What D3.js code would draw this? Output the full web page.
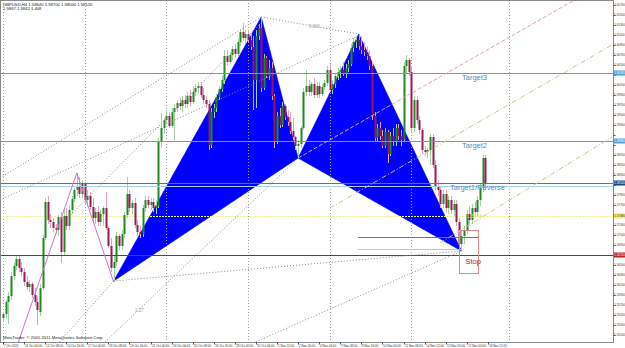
<!DOCTYPE html>
<html><head><meta charset="utf-8">
<script src="https://cdn.jsdelivr.net/npm/d3@7"></script>
<style>body{margin:0;background:#fff;} svg{display:block;font-family:"Liberation Sans",Arial,sans-serif;}</style>
</head><body><svg id="c" width="625" height="348"></svg>
<script>
const symbolTitle = "GBPUSD,H4";
const openP = [1.5544,1.5552,1.5576,1.5588,1.5628,1.5648,1.5662,1.5644,1.5636,1.5616,
1.5606,1.5612,1.5590,1.5576,1.5556,1.5604,1.5704,1.5776,1.5740,1.5736,
1.5724,1.5720,1.5746,1.5676,1.5748,1.5728,1.5760,1.5782,1.5800,1.5808,
1.5792,1.5812,1.5780,1.5788,1.5766,1.5744,1.5756,1.5736,1.5752,1.5764,
1.5724,1.5688,1.5644,1.5656,1.5708,1.5688,1.5712,1.5750,1.5792,1.5764,
1.5774,1.5730,1.5716,1.5712,1.5764,1.5780,1.5770,1.5776,1.5764,1.5768,
1.5896,1.5924,1.5940,1.5948,1.5928,1.5956,1.5964,1.5974,1.5968,1.5980,
1.5972,1.5988,1.5976,1.5996,1.6004,1.6008,1.5990,1.5980,1.5972,1.5890,
1.5956,1.5964,1.5986,1.6002,1.6020,1.6068,1.6056,1.6070,1.6082,1.6072,
1.6096,1.6116,1.6104,1.6112,1.6100,1.6086,1.6020,1.6108,1.6124,1.6004,
1.6064,1.6028,1.6044,1.5988,1.5896,1.5948,1.5930,1.5968,1.5946,1.5936,
1.5918,1.5906,1.5888,1.5892,1.5924,1.5996,1.6008,1.5996,1.6012,1.5990,
1.6008,1.5992,1.6006,1.6014,1.6040,1.6000,1.6012,1.6028,1.6036,1.6040,
1.6032,1.6044,1.6052,1.6084,1.6096,1.6100,1.6088,1.6080,1.6076,1.6068,
1.6048,1.5948,1.5904,1.5924,1.5908,1.5888,1.5916,1.5872,1.5908,1.5896,
1.5924,1.5908,1.5900,1.6048,1.6060,1.6036,1.5924,1.5980,1.5940,1.5920,
1.5880,1.5876,1.5880,1.5906,1.5850,1.5808,1.5800,1.5772,1.5792,1.5764,
1.5780,1.5760,1.5772,1.5736,1.5692,1.5708,1.5720,1.5752,1.5740,1.5764,
1.5756,1.5780,1.5804,1.5864];
const highP = [1.5556,1.5580,1.5596,1.5636,1.5656,1.5670,1.5668,1.5656,1.5644,1.5628,
1.5620,1.5616,1.5604,1.5588,1.5612,1.5710,1.5784,1.5788,1.5752,1.5744,
1.5732,1.5750,1.5756,1.5760,1.5764,1.5770,1.5788,1.5804,1.5834,1.5826,
1.5820,1.5816,1.5800,1.5796,1.5784,1.5764,1.5768,1.5760,1.5768,1.5796,
1.5728,1.5704,1.5668,1.5716,1.5712,1.5720,1.5756,1.5826,1.5800,1.5780,
1.5784,1.5740,1.5728,1.5770,1.5788,1.5788,1.5784,1.5784,1.5780,1.5904,
1.5954,1.5944,1.5960,1.5956,1.5964,1.5972,1.5980,1.5984,1.5988,1.5990,
1.5996,1.6000,1.6008,1.6012,1.6016,1.6016,1.6004,1.5988,1.5980,1.5964,
1.5972,1.5992,1.6008,1.6028,1.6080,1.6080,1.6076,1.6088,1.6092,1.6104,
1.6120,1.6134,1.6120,1.6120,1.6112,1.6108,1.6120,1.6132,1.6146,1.6072,
1.6068,1.6060,1.6056,1.5992,1.5956,1.5964,1.5976,1.5972,1.5960,1.5956,
1.5944,1.5908,1.5900,1.5928,1.6004,1.6040,1.6020,1.6016,1.6024,1.6016,
1.6016,1.6012,1.6020,1.6048,1.6052,1.6020,1.6032,1.6044,1.6048,1.6056,
1.6052,1.6060,1.6092,1.6104,1.6108,1.6112,1.6108,1.6096,1.6088,1.6080,
1.6056,1.5956,1.5932,1.5936,1.5920,1.5924,1.5920,1.5916,1.5924,1.5932,
1.5932,1.5920,1.6056,1.6070,1.6064,1.6048,1.5988,1.5988,1.5948,1.5924,
1.5888,1.5884,1.5912,1.5912,1.5860,1.5820,1.5808,1.5800,1.5800,1.5788,
1.5788,1.5780,1.5780,1.5744,1.5720,1.5728,1.5760,1.5768,1.5772,1.5776,
1.5788,1.5812,1.5870,1.5870];
const lowP = [1.5536,1.5544,1.5532,1.5580,1.5620,1.5640,1.5636,1.5628,1.5608,1.5600,
1.5596,1.5584,1.5568,1.5530,1.5548,1.5600,1.5700,1.5732,1.5724,1.5716,
1.5712,1.5708,1.5654,1.5668,1.5720,1.5720,1.5752,1.5776,1.5788,1.5784,
1.5784,1.5772,1.5768,1.5760,1.5736,1.5732,1.5728,1.5728,1.5728,1.5720,
1.5684,1.5636,1.5616,1.5648,1.5680,1.5680,1.5704,1.5744,1.5756,1.5752,
1.5724,1.5708,1.5704,1.5706,1.5756,1.5764,1.5760,1.5756,1.5752,1.5764,
1.5884,1.5912,1.5932,1.5924,1.5924,1.5900,1.5956,1.5960,1.5956,1.5964,
1.5964,1.5968,1.5972,1.5988,1.5992,1.5984,1.5972,1.5964,1.5880,1.5884,
1.5944,1.5956,1.5980,1.5996,1.6012,1.6048,1.6052,1.6060,1.6064,1.6068,
1.6088,1.6100,1.6092,1.6096,1.6080,1.5960,1.5964,1.6100,1.5996,1.6000,
1.6024,1.6020,1.5980,1.5884,1.5892,1.5924,1.5926,1.5940,1.5928,1.5912,
1.5900,1.5880,1.5864,1.5884,1.5920,1.5988,1.5988,1.5988,1.5984,1.5984,
1.5984,1.5988,1.6000,1.6008,1.5996,1.5992,1.6004,1.6020,1.6024,1.6028,
1.6024,1.6036,1.6048,1.6076,1.6084,1.6080,1.6072,1.6068,1.6060,1.6040,
1.5940,1.5896,1.5896,1.5900,1.5884,1.5884,1.5854,1.5868,1.5888,1.5888,
1.5900,1.5888,1.5896,1.6032,1.6028,1.5916,1.5916,1.5932,1.5912,1.5872,
1.5868,1.5864,1.5850,1.5844,1.5800,1.5788,1.5764,1.5764,1.5756,1.5752,
1.5752,1.5748,1.5728,1.5684,1.5676,1.5692,1.5712,1.5732,1.5732,1.5748,
1.5748,1.5768,1.5796,1.5800];
const closeP = [1.5552,1.5576,1.5588,1.5628,1.5648,1.5662,1.5644,1.5636,1.5616,1.5606,
1.5612,1.5590,1.5576,1.5560,1.5604,1.5704,1.5776,1.5740,1.5736,1.5724,
1.5720,1.5746,1.5676,1.5748,1.5728,1.5760,1.5782,1.5800,1.5808,1.5792,
1.5812,1.5780,1.5788,1.5766,1.5744,1.5756,1.5736,1.5752,1.5764,1.5724,
1.5688,1.5644,1.5656,1.5708,1.5688,1.5712,1.5750,1.5792,1.5764,1.5774,
1.5730,1.5716,1.5712,1.5764,1.5780,1.5770,1.5776,1.5764,1.5768,1.5896,
1.5924,1.5940,1.5948,1.5928,1.5956,1.5964,1.5974,1.5968,1.5980,1.5972,
1.5988,1.5976,1.5996,1.6004,1.6008,1.5990,1.5980,1.5972,1.5890,1.5956,
1.5964,1.5986,1.6002,1.6020,1.6068,1.6056,1.6070,1.6082,1.6072,1.6096,
1.6116,1.6104,1.6112,1.6100,1.6086,1.6020,1.6108,1.6124,1.6004,1.6064,
1.6028,1.6044,1.5988,1.5896,1.5948,1.5930,1.5968,1.5946,1.5936,1.5918,
1.5906,1.5888,1.5892,1.5924,1.5996,1.6008,1.5996,1.6012,1.5990,1.6008,
1.5992,1.6006,1.6014,1.6040,1.6000,1.6012,1.6028,1.6036,1.6040,1.6032,
1.6044,1.6052,1.6084,1.6096,1.6100,1.6088,1.6080,1.6076,1.6068,1.6048,
1.5948,1.5904,1.5924,1.5908,1.5888,1.5916,1.5872,1.5908,1.5896,1.5924,
1.5908,1.5900,1.6048,1.6060,1.6036,1.5924,1.5980,1.5940,1.5920,1.5880,
1.5876,1.5880,1.5906,1.5850,1.5808,1.5800,1.5772,1.5792,1.5764,1.5780,
1.5760,1.5772,1.5736,1.5692,1.5708,1.5720,1.5752,1.5740,1.5764,1.5756,
1.5780,1.5804,1.5864,1.5812];

const priceTicks = [1.6170,1.6150,1.6130,1.6110,1.6090,1.6070,1.6050,1.6030,1.6010,1.5990,
1.5970,1.5950,1.5930,1.5910,1.5890,1.5870,1.5850,1.5830,1.5810,1.5790,1.5770,1.5750,
1.5730,1.5710,1.5690,1.5670,1.5650,1.5630,1.5610,1.5590,1.5570,1.5550,1.5530,1.5510];
const dateLabels = ["7 Oct 2011","11 Oct 00:00","12 Oct 08:00","13 Oct 16:00","17 Oct 00:00","18 Oct 08:00",
"19 Oct 16:00","21 Oct 00:00","24 Oct 04:00","25 Oct 08:00","26 Oct 16:00","28 Oct 00:00","31 Oct 04:00",
"1 Nov 12:00","2 Nov 20:00","4 Nov 04:00","7 Nov 08:00","8 Nov 16:00","10 Nov 00:00","11 Nov 08:00",
"14 Nov 12:00","15 Nov 20:00","17 Nov 04:00","18 Nov 12:00"];
const dateLabelStep = 8;
const separatorBars = [0,31,62,93,124,155,192];

// harmonic pattern X A B C D
const patternBars = [42,98,112,135,174];
const patternPrices = [1.5618,1.6146,1.5864,1.6112,1.5678];

// horizontal levels
const levelNames = ["Target3","Target2","Target1/Reverse","Stop"];
const levelPrices = [1.6034,1.5898,1.5814,1.5670];
const target1Second = 1.5808;
const yellowLevel = 1.5748;
const shortLevelPrices = [1.5706,1.5682];
const shortLevelBars = [[134.7,180.3],[134.7,174.2]];
const stopBoxBars = [173.1,180.3];
const stopBoxPrices = [1.5720,1.5634];

// earlier swing (pink)
const swingBars = [4,28,42];
const swingPrices = [1.5468,1.5834,1.5616];

// trend lines: [bar1, price1, bar2, price2]
const grayLines = [
 [-1.14,1.5824,98,1.6146],
 [-1.14,1.5780,135.5,1.6110],
 [20,1.5720,98,1.6134],
 [42,1.5618,174,1.5678],
 [98,1.6146,135,1.6112],
 [21.3,1.5496,42,1.5618],
 [38.7,1.5496,112,1.5864],
 [94.9,1.5494,174,1.5678]
];
const pinkLines = [[112,1.5864,231.5,1.6224]];
const tanLines = [[165.8,1.5694,231.1,1.5906],[124.1,1.5764,231.1,1.6090]];

const svg = d3.select('#c');
const PR = 613, PB = 342;
const x = d3.scaleLinear().domain([0,232]).range([3,3+2.635*232]);
const y = d3.scaleLinear().domain([1.5496,1.6180]).range([PB,0]);

svg.append('rect').attr('width',625).attr('height',348).attr('fill','#fff');
svg.append('clipPath').attr('id','clip').append('rect').attr('x',0).attr('y',0).attr('width',PR).attr('height',PB);
const g = svg.append('g').attr('clip-path','url(#clip)');

// triangles
const pts = patternBars.map((b,i)=>[x(b),y(patternPrices[i])]);
g.selectAll('path.tri').data([[pts[0],pts[1],pts[2]],[pts[2],pts[3],pts[4]]]).enter()
 .append('path').attr('d',d=>'M'+d.join('L')+'Z').attr('fill','#0000ff').attr('stroke','#0000ff').attr('stroke-width',0.6);

// separators
g.selectAll('line.sep').data(separatorBars).enter().append('line')
 .attr('x1',d=>Math.round(x(d))+0.5).attr('x2',d=>Math.round(x(d))+0.5).attr('y1',0).attr('y2',PB)
 .attr('stroke','#a0a0a0').attr('stroke-width',1).attr('stroke-dasharray','1,2');

// yellow level
g.append('line').attr('x1',0).attr('x2',PR).attr('y1',Math.round(y(yellowLevel))+0.5).attr('y2',Math.round(y(yellowLevel))+0.5)
 .attr('stroke','#f0f08c').attr('stroke-width',1).attr('stroke-dasharray','2,1');

// candles
const idx = d3.range(closeP.length);
g.selectAll('line.wick').data(idx).enter().append('line')
 .attr('x1',i=>Math.round(x(i))+0.5).attr('x2',i=>Math.round(x(i))+0.5)
 .attr('y1',i=>y(highP[i])).attr('y2',i=>y(lowP[i]))
 .attr('stroke',i=>closeP[i]>=openP[i]?'#a0d4a0':'#e6a4ba').attr('stroke-width',1);
g.selectAll('rect.body').data(idx).enter().append('rect')
 .attr('x',i=>Math.round(x(i))-0.5).attr('width',2)
 .attr('y',i=>y(Math.max(openP[i],closeP[i])))
 .attr('height',i=>Math.max(1,Math.abs(y(openP[i])-y(closeP[i]))))
 .attr('fill',i=>closeP[i]>=openP[i]?'#1f8a1f':'#9c1850');

// horizontal levels
const levelColors = ['#5aa0d2','#5aa0d2','#3c7cc0','#b41e1e'];
levelPrices.forEach((p,k)=>{
 g.append('line').attr('x1',0).attr('x2',PR).attr('y1',Math.round(y(p))+0.5).attr('y2',Math.round(y(p))+0.5)
  .attr('stroke',levelColors[k]).attr('stroke-width',1);
});
g.append('line').attr('x1',0).attr('x2',PR).attr('y1',Math.round(y(target1Second))+0.5).attr('y2',Math.round(y(target1Second))+0.5)
 .attr('stroke','#a8d0ea').attr('stroke-width',1);

// short levels & stop box
const shortColors = ['#7a6a96','#8fd8e8'];
shortLevelPrices.forEach((p,k)=>{
 g.append('line').attr('x1',x(shortLevelBars[k][0])).attr('x2',x(shortLevelBars[k][1]))
  .attr('y1',Math.round(y(p))+0.5).attr('y2',Math.round(y(p))+0.5).attr('stroke',shortColors[k]).attr('stroke-width',1);
});
g.append('rect').attr('x',Math.round(x(stopBoxBars[0]))+0.5).attr('y',Math.round(y(stopBoxPrices[0]))+0.5)
 .attr('width',Math.round(x(stopBoxBars[1])-x(stopBoxBars[0]))).attr('height',Math.round(y(stopBoxPrices[1])-y(stopBoxPrices[0])))
 .attr('fill','none').attr('stroke','#e08a8a').attr('stroke-width',1);

// trend lines
const drawLines=(arr,color,dash,w)=>g.selectAll(null).data(arr).enter().append('line')
 .attr('x1',d=>x(d[0])).attr('y1',d=>y(d[1])).attr('x2',d=>x(d[2])).attr('y2',d=>y(d[3]))
 .attr('stroke',color).attr('stroke-width',w).attr('stroke-dasharray',dash);
drawLines(grayLines,'#8c8c8c','1,2',1);
drawLines(pinkLines,'#e0a0c4','4,2',1);
drawLines(tanLines,'#d2c08c','5,2,1,2',1);

g.append('path').attr('d',d3.line()(swingBars.map((b,i)=>[x(b),y(swingPrices[i])])))
 .attr('fill','none').attr('stroke','#d070d0').attr('stroke-width',1);

// labels on chart
levelNames.slice(0,3).forEach((n,k)=>{
 svg.append('text').attr('x',k==2?450:462).attr('y',y(levelPrices[k])+7).text(n)
  .attr('font-size',7.5).attr('fill','#4a90c8');
});
svg.append('text').attr('x',x(175.5)).attr('y',y(levelPrices[3])+9).text(levelNames[3])
 .attr('font-size',7.5).attr('fill','#c02020');
svg.append('text').attr('x',x(176)).attr('y',y(yellowLevel)+2).text(yellowLevel.toFixed(4))
 .attr('font-size',5).attr('fill','#e0e060');
svg.append('text').attr('x',x(116)).attr('y',y(1.6124)).text('0.886').attr('font-size',4.5).attr('fill','#8ab0c8');
svg.append('text').attr('x',135).attr('y',312).text('1.27').attr('font-size',4.5).attr('fill','#9a9a9a');

// frame
svg.append('rect').attr('x',0.5).attr('y',0.5).attr('width',PR).attr('height',PB).attr('fill','none').attr('stroke','#8a8a8a').attr('stroke-width',1);

// price axis
const boxLevels = [[levelPrices[0],'#5aa0d2'],[levelPrices[1],'#5aa0d2'],[levelPrices[2],'#1a4a8a'],[levelPrices[3],'#c02020'],[yellowLevel,'#f0f070']];
const freeTicks = priceTicks.filter(p=>boxLevels.every(([b])=>Math.abs(y(b)-y(p))>6));
svg.selectAll('line.pt').data(priceTicks).enter().append('line')
 .attr('x1',PR+0.5).attr('x2',PR+2.5).attr('y1',p=>Math.round(y(p))+0.5).attr('y2',p=>Math.round(y(p))+0.5).attr('stroke','#555');
svg.selectAll('text.pt').data(freeTicks).enter().append('text')
 .attr('x',PR+1.3).attr('y',p=>y(p)+1.1).text(p=>p.toFixed(5))
 .attr('font-size',2.9).attr('fill','#333');
boxLevels.forEach(([p,c])=>{
 const yy=y(p);
 svg.append('rect').attr('x',PR+1).attr('y',yy-2.5).attr('width',11).attr('height',5).attr('fill',c);
 svg.append('text').attr('x',PR+1.3).attr('y',yy+1.1).text(p.toFixed(5)).attr('font-size',2.9).attr('fill',c=='#f0f070'?'#333':'#fff');
});

// time axis
svg.selectAll('g.tl').data(dateLabels).enter().append('g').each(function(t,k){
 const xx=Math.round(x(k*dateLabelStep))+0.5;
 d3.select(this).append('line').attr('x1',xx).attr('x2',xx).attr('y1',PB).attr('y2',PB+2.5).attr('stroke','#555');
 d3.select(this).append('text').attr('x',xx+0.5).attr('y',PB+5).text(t).attr('font-size',3).attr('fill','#333');
});

// header / footer
const last = closeP.length-1;
svg.append('text').attr('x',3).attr('y',5.5).attr('font-size',4.2).attr('fill','#222')
 .text(symbolTitle+'  '+[openP[last],highP[last],lowP[last],closeP[last]].map(v=>v.toFixed(5)).join(' '));
svg.append('text').attr('x',3).attr('y',10).attr('font-size',4.2).attr('fill','#222').text('1.5867 1.5842 1.408');
svg.append('text').attr('x',3).attr('y',339).attr('font-size',4.2).attr('fill','#222').text('MetaTrader, © 2001-2011 MetaQuotes Software Corp.');
</script></body></html>
